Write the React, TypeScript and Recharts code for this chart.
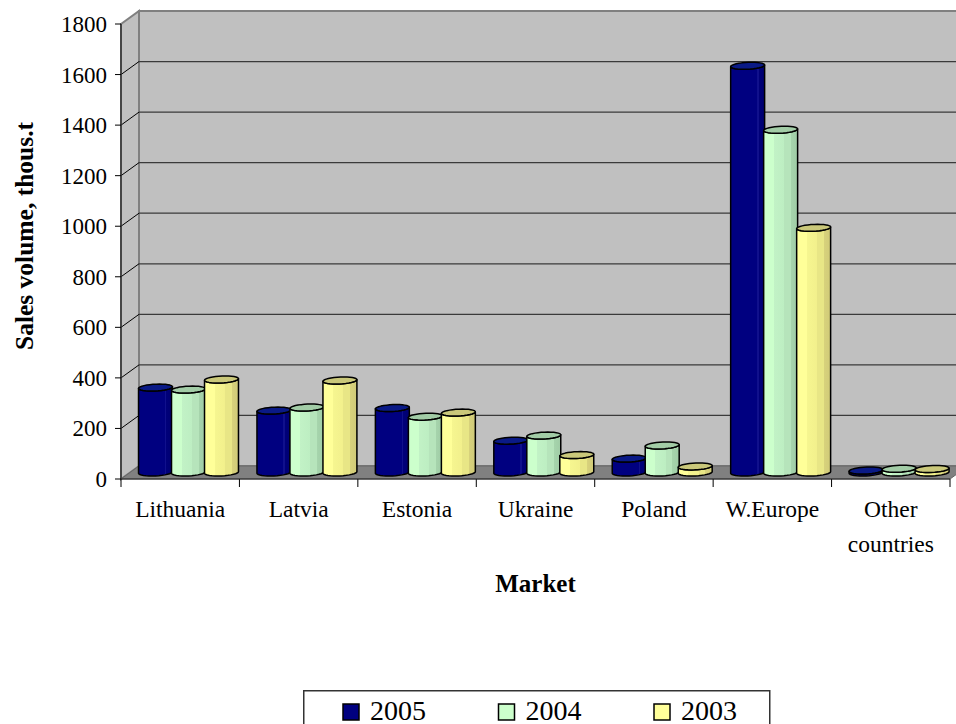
import React from 'react';
import { BarChart, Bar, XAxis, YAxis, Legend } from 'recharts';

const markets = ['Lithuania', 'Latvia', 'Estonia', 'Ukraine', 'Poland', 'W.Europe', 'Other countries'];
const seriesNames = ['2005', '2004', '2003'];
const sales2005 = [336, 245, 255, 126, 55, 1609, 8];
const sales2004 = [328, 257, 221, 146, 107, 1356, 15];
const sales2003 = [368, 364, 237, 69, 24, 968, 14];
const yTicks = [0, 200, 400, 600, 800, 1000, 1200, 1400, 1600, 1800];

const data = markets.map((m, i) => ({
    market: m,
    y2005: sales2005[i],
    y2004: sales2004[i],
    y2003: sales2003[i],
}));

const W = 956;
const H = 724;
// plot box (front plane)
const X0 = 121;
const X1 = 950;
const YT = 24;
const YB = 479;
// 3d depth offset
const DX = 18;
const DY = 13;
const FONT = "'Liberation Serif', 'Times New Roman', serif";

const yPix = (v: number) => YB - (v / 1800) * (YB - YT);

function Walls() {
    const catW = (X1 - X0) / markets.length;
    return (
        <svg width={W} height={H} style={{ position: 'absolute', left: 0, top: 0 }}>
            <rect x={X0 + DX} y={YT - DY} width={W} height={YB - YT} fill="#c0c0c0" stroke="#808080" strokeWidth={2} />
            <polygon
                points={`${X0},${YT} ${X0 + DX},${YT - DY} ${X0 + DX},${YB - DY} ${X0},${YB}`}
                fill="#c0c0c0"
                stroke="#808080"
                strokeWidth={2}
            />
            {yTicks.filter(v => v > 0 && v < 1800).map(v => (
                <g key={v}>
                    <line x1={X0 + DX} x2={W + 20} y1={yPix(v) - DY} y2={yPix(v) - DY} stroke="#3a3a3a" strokeWidth={1.2} />
                    <line x1={X0} x2={X0 + DX} y1={yPix(v)} y2={yPix(v) - DY} stroke="#000" strokeWidth={1} />
                </g>
            ))}
            <polygon
                points={`${X0},${YB} ${X0 + DX},${YB - DY} ${X1 + DX},${YB - DY} ${X1},${YB}`}
                fill="#808080"
                stroke="#666"
                strokeWidth={1}
            />
            {markets.map((_, i) => (
                <line key={i} x1={X0 + (i + 1) * catW} x2={X0 + (i + 1) * catW} y1={YB} y2={YB + 8} stroke="#000" strokeWidth={1} />
            ))}
            <line x1={X0} x2={X0} y1={YB} y2={YB + 8} stroke="#000" strokeWidth={1} />
        </svg>
    );
}

function Cylinder(props: any) {
    const { x, y, width, height, body, top } = props;
    if (width == null || height == null) return null;
    const sx = DX / 2;
    const sy = DY / 2;
    const r = width / 2;
    const a = 4;
    const b = 3.5;
    const cx = x + r + sx;
    const yTop = y - sy;
    const yBot = y + height - sy;
    const t0 = Math.atan2(a, r);
    const pt = (t: number, yc: number) => [cx + r * Math.cos(t) + a * Math.sin(t), yc - b * Math.sin(t)];
    const n = 16;
    const bottomArc: number[][] = [];
    for (let i = 0; i <= n; i++) bottomArc.push(pt(t0 + Math.PI + (Math.PI * i) / n, yBot));
    const topFront: number[][] = [];
    for (let i = 0; i <= n; i++) topFront.push(pt(t0 + 2 * Math.PI - (Math.PI * i) / n, yTop));
    const bodyPts = [...bottomArc, ...topFront];
    const bodyPath = 'M' + bodyPts.map(p => `${p[0].toFixed(2)},${p[1].toFixed(2)}`).join(' L') + ' Z';
    const cap: number[][] = [];
    for (let i = 0; i < 2 * n; i++) cap.push(pt((Math.PI * i) / n, yTop));
    const capPath = 'M' + cap.map(p => `${p[0].toFixed(2)},${p[1].toFixed(2)}`).join(' L') + ' Z';
    return (
        <g>
            <path d={bodyPath} fill={body} stroke="#000" strokeWidth={1.5} strokeLinejoin="round" />
            <path d={capPath} fill={top} stroke="#000" strokeWidth={1.5} strokeLinejoin="round" />
        </g>
    );
}

function XTick({ x, y, payload }: any) {
    const words = payload.value === 'Other countries' ? ['Other', 'countries'] : [payload.value];
    return (
        <text x={x} y={y + 38} textAnchor="middle" fontSize={23.5} fontFamily={FONT} fill="#000">
            {words.map((w: string, i: number) => (
                <tspan key={i} x={x} dy={i === 0 ? 0 : 35}>{w}</tspan>
            ))}
        </text>
    );
}

function YTick({ x, y, payload }: any) {
    return (
        <text x={x} y={y} dy={8} textAnchor="end" fontSize={23} fontFamily={FONT} fill="#000">
            {payload.value}
        </text>
    );
}

function LegendBox({ payload }: any) {
    const items = [...(payload || [])].sort(
        (p: any, q: any) => seriesNames.indexOf(String(p.value)) - seriesNames.indexOf(String(q.value))
    );
    return (
        <svg width={470} height={40} style={{ display: 'block' }}>
            <rect x={0.75} y={0.75} width={466} height={60} fill="#fff" stroke="#333" strokeWidth={1.5} />
            {items.map((p: any, i: number) => (
                <g key={p.value}>
                    <rect x={40 + i * 155.5} y={14} width={16} height={16} fill={p.color} stroke="#000" strokeWidth={1.5} />
                    <text x={67 + i * 155.5} y={30} fontSize={28} fontFamily={FONT} fill="#000">{p.value}</text>
                </g>
            ))}
        </svg>
    );
}

export default function App() {
    return (
        <div style={{ position: 'fixed', left: 0, top: 0, width: W, height: H, overflow: 'hidden', background: '#fff' }}>
            <Walls />
            <div style={{ position: 'absolute', left: 0, top: 0 }}>
                <BarChart
                    width={W}
                    height={H}
                    data={data}
                    margin={{ top: YT, right: W - X1, left: 0, bottom: H - YB - 60 }}
                    barCategoryGap={9}
                    barGap={0}
                >
                    <defs>
                        <linearGradient id="g2005" x1="0" y1="0" x2="1" y2="0">
                            <stop offset="0" stopColor="#000080" />
                            <stop offset="0.78" stopColor="#000080" />
                            <stop offset="0.78" stopColor="#10108c" />
                            <stop offset="0.82" stopColor="#10108c" />
                            <stop offset="0.82" stopColor="#00007a" />
                            <stop offset="1" stopColor="#000070" />
                        </linearGradient>
                        <linearGradient id="g2004" x1="0" y1="0" x2="1" y2="0">
                            <stop offset="0" stopColor="#ccffcc" />
                            <stop offset="0.3" stopColor="#ccffcc" />
                            <stop offset="0.3" stopColor="#c2f2c6" />
                            <stop offset="0.6" stopColor="#bdeec2" />
                            <stop offset="0.6" stopColor="#b6e4bb" />
                            <stop offset="0.8" stopColor="#b6e4bb" />
                            <stop offset="0.8" stopColor="#a6d4ac" />
                            <stop offset="1" stopColor="#a0cca6" />
                        </linearGradient>
                        <linearGradient id="g2003" x1="0" y1="0" x2="1" y2="0">
                            <stop offset="0" stopColor="#ffff99" />
                            <stop offset="0.3" stopColor="#ffff99" />
                            <stop offset="0.3" stopColor="#f6f690" />
                            <stop offset="0.6" stopColor="#f2f08c" />
                            <stop offset="0.6" stopColor="#e8e686" />
                            <stop offset="0.8" stopColor="#e8e686" />
                            <stop offset="0.8" stopColor="#d8d27c" />
                            <stop offset="1" stopColor="#d0ca78" />
                        </linearGradient>
                    </defs>
                    <XAxis
                        dataKey="market"
                        height={60}
                        interval={0}
                        axisLine={{ stroke: '#222', strokeWidth: 1.2 }}
                        tickLine={false}
                        tickSize={0}
                        tickMargin={0}
                        tick={<XTick />}
                        label={(p: any) => (
                            <text
                                x={p.viewBox.x + p.viewBox.width / 2}
                                y={592}
                                textAnchor="middle"
                                fontSize={25}
                                fontWeight="bold"
                                fontFamily={FONT}
                                fill="#000"
                            >
                                Market
                            </text>
                        )}
                    />
                    <YAxis
                        width={X0}
                        domain={[0, 1800]}
                        ticks={yTicks}
                        interval={0}
                        axisLine={{ stroke: '#333', strokeWidth: 1.5 }}
                        tickLine={{ stroke: '#000' }}
                        tickSize={6}
                        tickMargin={8}
                        tick={<YTick />}
                        label={() => (
                            <text
                                x={33}
                                y={236}
                                transform="rotate(-90 33 236)"
                                textAnchor="middle"
                                fontSize={25.5}
                                fontWeight="bold"
                                fontFamily={FONT}
                                fill="#000"
                            >
                                Sales volume, thous.t
                            </text>
                        )}
                    />
                    <Legend
                        layout="horizontal"
                        verticalAlign="middle"
                        content={<LegendBox />}
                        wrapperStyle={{ position: 'absolute', left: 303, top: 690, width: 470, height: 40 }}
                    />
                    <Bar dataKey="y2005" name="2005" fill="#000080" isAnimationActive={false}
                        shape={(p: any) => <Cylinder {...p} body="url(#g2005)" top="#0a1a86" />} />
                    <Bar dataKey="y2004" name="2004" fill="#ccffcc" isAnimationActive={false}
                        shape={(p: any) => <Cylinder {...p} body="url(#g2004)" top="#a2cca6" />} />
                    <Bar dataKey="y2003" name="2003" fill="#ffff99" isAnimationActive={false}
                        shape={(p: any) => <Cylinder {...p} body="url(#g2003)" top="#cac87a" />} />
                </BarChart>
            </div>
        </div>
    );
}
